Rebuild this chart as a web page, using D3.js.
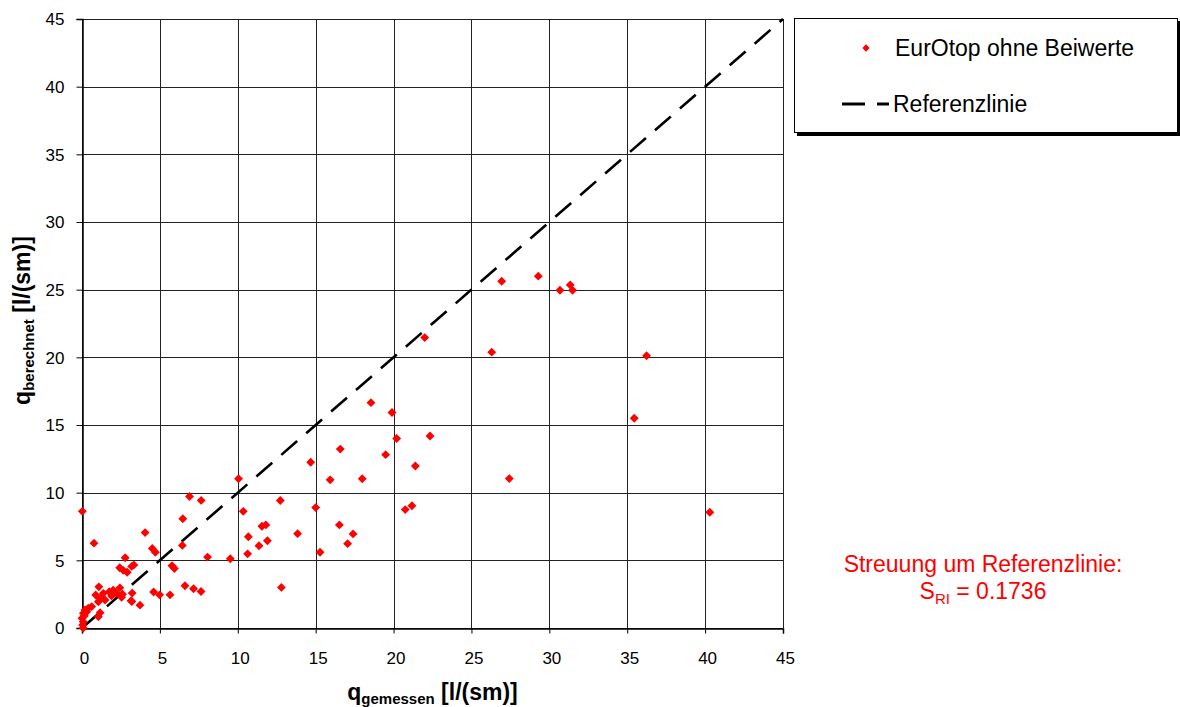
<!DOCTYPE html>
<html><head><meta charset="utf-8">
<script src="https://cdn.jsdelivr.net/npm/d3@7"></script>
<style>
html,body{margin:0;padding:0;background:#fff;}
svg{display:block;font-family:"Liberation Sans",Arial,sans-serif;}
</style></head>
<body><svg id="c" width="1180" height="707"></svg>
<script>
const xTicks = [0,5,10,15,20,25,30,35,40,45];
const yTicks = [0,5,10,15,20,25,30,35,40,45];
const qGemessen = [0.02,0.77,4.05,6.9,7.65,10.05,10.35,6.47,10.68,10.63,6.44,4.51,4.71,2.77,8.06,9.52,5.78,5.93,2.42,2.65,2.9,3.19,3.33,1.08,2.43,3.22,3.2,3.72,4.6,4.98,5.65,6.61,7.16,7.64,0.88,1.16,1.37,1.75,1.9,2.22,2.54,1.48,1.05,3.15,1.16,1.05,0.4,0.19,0.09,0.0,0.08,0.04,0.08,0.62,0.3,0.15,2.0,2.6,11.55,11.8,11.36,11.9,12.73,12.8,13.84,14.68,15.0,15.28,15.93,16.58,16.52,17.05,17.4,17.99,18.55,19.9,20.2,22.34,19.49,21.4,20.75,21.18,22.0,26.3,26.94,29.29,30.68,31.34,31.49,36.24,35.45,27.43,40.3];
const qBerechnet = [8.62,6.27,7.05,9.72,9.43,11.03,8.62,8.07,6.74,5.48,6.1,5.88,5.6,5.19,5.24,5.12,4.6,4.4,4.45,4.26,4.12,4.55,4.66,3.04,2.97,2.58,1.95,1.69,2.66,2.45,2.45,3.12,2.9,2.7,2.44,2.19,2.56,2.68,2.37,2.56,2.27,2.07,1.94,2.02,1.13,0.84,1.46,1.33,1.09,0.72,0.47,0.22,0.0,1.58,1.2,0.9,2.8,2.5,7.52,7.62,6.08,6.45,9.42,3.0,6.97,12.25,8.9,5.6,10.95,13.22,7.62,6.23,6.95,11.03,16.65,15.92,14.0,14.19,12.81,11.97,8.75,9.03,21.46,20.38,25.62,26.0,24.96,25.35,24.96,20.12,15.5,11.04,8.55];
const refLine = [0,45];
const seriesName = "EurOtop ohne Beiwerte";
const refName = "Referenzlinie";
const annotLine1 = "Streuung um Referenzlinie:";
const annotValue = "0.1736";

const svg = d3.select("#c");
const L=82, R=783, T=19, B=628;
const x = d3.scaleLinear().domain([0,45]).range([L,R]);
const y = d3.scaleLinear().domain([0,45]).range([B,T]);

// grid
const g = svg.append("g");
g.selectAll("line.v").data(xTicks).join("line")
  .attr("x1",d=>Math.round(x(d))+0.5).attr("x2",d=>Math.round(x(d))+0.5)
  .attr("y1",T).attr("y2",B).attr("stroke","#222").attr("stroke-width",1);
g.selectAll("line.h").data(yTicks).join("line")
  .attr("y1",d=>Math.round(y(d))+0.5).attr("y2",d=>Math.round(y(d))+0.5)
  .attr("x1",L).attr("x2",R).attr("stroke","#222").attr("stroke-width",1);

// axes
const xAxis = d3.axisBottom(x).tickValues(xTicks).tickSize(5).tickPadding(18).tickFormat(d3.format("d"));
const yAxis = d3.axisLeft(y).tickValues(yTicks).tickSize(6).tickPadding(12).tickFormat(d3.format("d"));
const gx = svg.append("g").attr("transform",`translate(0,${B+0.5})`).call(xAxis);
const gy = svg.append("g").attr("transform",`translate(${L+0.5},0)`).call(yAxis);
[gx,gy].forEach(a=>{
  a.select(".domain").attr("stroke","#000").attr("stroke-width",1.5);
  a.selectAll(".tick line").attr("stroke","#000");
  a.selectAll(".tick text").attr("fill","#000").style("font-size","17px").style("font-family","'Liberation Sans',Arial,sans-serif");
});
gy.selectAll(".tick text").attr("dy","0.35em");
gx.selectAll(".tick text").attr("dx","2");

// reference line
svg.append("line")
  .attr("x1",x(refLine[0])).attr("y1",y(refLine[0]))
  .attr("x2",x(refLine[1])).attr("y2",y(refLine[1]))
  .attr("stroke","#000").attr("stroke-width",2.6).attr("stroke-dasharray","21,12");

// points
const pts = qGemessen.map((v,i)=>[v,qBerechnet[i]]);
const diamond = d3.symbol().type(d3.symbolDiamond2).size(50);
svg.append("g").selectAll("path").data(pts).join("path")
  .attr("d",diamond)
  .attr("transform",d=>`translate(${x(d[0])},${y(d[1])})`)
  .attr("fill","#ff0000");

// axis titles
const xt = svg.append("text").attr("x",(L+R)/2).attr("y",700).attr("text-anchor","middle")
  .attr("font-weight","bold").attr("font-size","23px").attr("fill","#000");
xt.append("tspan").text("q");
xt.append("tspan").attr("font-size","15px").attr("dy","4").text("gemessen");
xt.append("tspan").attr("dy","-4").text(" [l/(sm)]");

const yt = svg.append("text").attr("transform",`translate(30,${(T+B)/2-3}) rotate(-90)`).attr("text-anchor","middle")
  .attr("font-weight","bold").attr("font-size","23px").attr("fill","#000");
yt.append("tspan").text("q");
yt.append("tspan").attr("font-size","15px").attr("dy","4").text("berechnet");
yt.append("tspan").attr("dy","-4").text(" [l/(sm)]");

// legend
const lg = svg.append("g");
lg.append("rect").attr("x",797).attr("y",21).attr("width",383).attr("height",115).attr("fill","#000");
lg.append("rect").attr("x",794.5).attr("y",18.5).attr("width",383).attr("height",114).attr("fill","#fff").attr("stroke","#000").attr("stroke-width",1);
lg.append("path").attr("d",d3.symbol().type(d3.symbolDiamond2).size(34)).attr("transform","translate(866,48)").attr("fill","#ff0000");
lg.append("text").attr("x",895).attr("y",56).attr("font-size","23px").attr("fill","#000").text(seriesName);
lg.append("line").attr("x1",842).attr("x2",889).attr("y1",104).attr("y2",104)
  .attr("stroke","#000").attr("stroke-width",3).attr("stroke-dasharray","23,12");
lg.append("text").attr("x",893).attr("y",112).attr("font-size","23px").attr("fill","#000").text(refName);

// annotation
svg.append("text").attr("x",983).attr("y",572).attr("text-anchor","middle").attr("font-size","23px").attr("fill","#ff0000").text(annotLine1);
const at = svg.append("text").attr("x",983).attr("y",599).attr("text-anchor","middle").attr("font-size","23px").attr("fill","#ff0000");
at.append("tspan").text("S");
at.append("tspan").attr("font-size","15px").attr("dy","5").text("RI");
at.append("tspan").attr("dy","-5").text(" = " + annotValue);
</script></body></html>
